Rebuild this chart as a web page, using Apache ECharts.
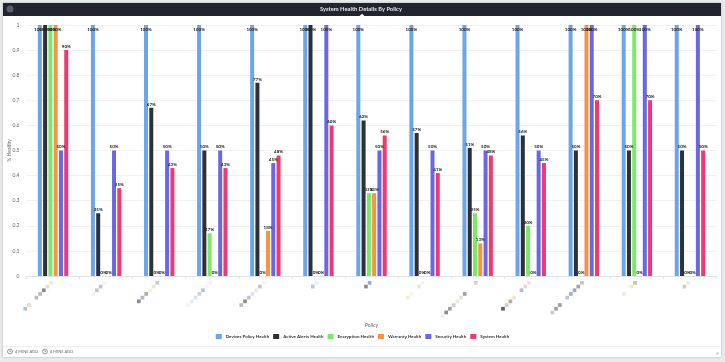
<!DOCTYPE html>
<html><head><meta charset="utf-8">
<style>html,body{margin:0;padding:0;background:#e9eaec;overflow:hidden}#c{width:725px;height:362px}</style>
<script src="https://cdn.jsdelivr.net/npm/echarts@6/dist/echarts.min.js"></script>
</head><body><div id="c"></div>
<script>
const title = 'System Health Details By Policy';
const seriesNames = ['Devices Policy Health','Active Alerts Health','Encryption Health','Warranty Health','Security Health','System Health'];
const colors = ['#6ba5ea','#2f3033','#7be868','#f59443','#6c66e2','#f2396b'];
const devicesPolicy = [1,1,1,1,1,1,1,1,1,1,1,1,1];
const activeAlerts = [1,.25,.67,.5,.77,1,.62,.57,.51,.56,.5,.5,.5];
const encryption   = [1,0,0,.17,0,0,.33,0,.25,.2,0,1,0];
const warranty     = [1,0,0,0,.18,0,.33,0,.13,0,1,0,0];
const security     = [.5,.5,.5,.5,.45,1,.5,.5,.5,.5,1,1,1];
const systemHealth = [.9,.35,.43,.43,.48,.6,.56,.41,.48,.45,.7,.7,.5];
const values = [devicesPolicy,activeAlerts,encryption,warranty,security,systemHealth];
// Category names are pixelated out in the reference; each is a staircase of pale squares, top-right first.
const categories = ['Policy A','Policy B','Policy C','Policy D','Policy E','Policy F','Policy G','Policy H','Policy I','Policy J','Policy K','Policy L','Policy M'];
const labelShades = [
 ['#f0ebe2','#e6dccf','#8c8880','#b8b8b8','#b4bcc6','','#e6dccf','#aebdd0'],
 ['#f4f4f4','#b8c4d0','#c4c8cc','#eef6fb'],
 ['#c8ccd0','#efe4d6','#f4efe6','#b8aca0','#a8b8cc','#8c8c8c'],
 ['#f6f6e8','#eef4fb','#b8c4d4','#c8d4e6','#d8e2f0','#e6edf6','#f0f5fb'],
 ['#f4f4f4','#b8c6d8','#f0ecdc','#dde2ea','#c4c4c4','#948c84','#c0bcb4'],
 ['#e8f0f8','#b8c8dc'],
 ['#a0aec2','#8c8c8c'],
 ['#f4f4f4','#ece4d8','','#f4f6ee','#e4f2dc'],
 ['#d8d0c4','','','#a0a0a0','#e4e4e4','#f0e8da','#d8cfc4','#a0a0a0','#8c8c8c','#e8f2fb'],
 ['#f0e4d4','#e4d8c8','#b0bccc','','#efe4d0','#b8aca0','#d8cfc4','#5c6068'],
 ['#ccc0b0','#9aa4b4','#a0a8b4','#a8b0bc','#bcc8d8','','#9c9c9c','#a0a0a0','#d4ccc0'],
 ['#c8c0b0','#f4e8d4','','#f6ead8'],
 ['#f6ecdc','#d8ccb8']
];
const step = 3.7;

const chart = echarts.init(document.getElementById('c'), null, {renderer:'canvas'});
const rich = {};
for (let k=0;k<=12;k++) rich['sp'+k] = {width:k*step+0.01,height:step,lineHeight:step,fontSize:1,color:'transparent'};
labelShades.forEach((row,i)=>row.forEach((c,j)=>{ rich['s'+i+'_'+j] = {width:step,height:step,lineHeight:step,backgroundColor:c||'transparent',fontSize:1,color:'transparent'}; }));

chart.setOption({
  animation:false,
  backgroundColor:'#e9eaec',
  textStyle:{fontFamily:'Lato,"Liberation Sans",sans-serif'},
  title:{text:title,left:320,top:5,padding:0,
    textStyle:{color:'#e6e7ea',fontSize:5.8,fontWeight:'bold',fontFamily:'Lato,sans-serif',lineHeight:8}},
  grid:{left:26.5,right:8.5,top:25,bottom:86,outerBoundsMode:'none'},
  legend:{top:329,left:'center',itemWidth:6,itemHeight:5,itemGap:4,icon:'rect',
    data:seriesNames,textStyle:{fontSize:4.5,color:'#333',fontWeight:'bold',padding:[0,0,0,-1]}},
  xAxis:{type:'category',data:categories,name:'Policy',nameLocation:'middle',nameGap:47,nameMoveOverlap:false,
    nameTextStyle:{fontSize:5,color:'#666'},
    axisTick:{show:true,length:3,lineStyle:{color:'#dfe4ee'}},
    axisLine:{lineStyle:{color:'#dfe4ee'}},
    axisLabel:{interval:0,rotate:0,margin:5,align:'right',verticalAlign:'top',fontSize:1,color:'transparent',
      formatter:(v,i)=>labelShades[i].map((c,j)=>'{s'+i+'_'+j+'| }{sp'+j+'| }').join('\n'),rich}},
  yAxis:{type:'value',min:0,max:1,interval:0.1,name:'% Healthy',nameLocation:'middle',nameGap:15,nameMoveOverlap:false,
    nameTextStyle:{fontSize:5,color:'#666'},
    axisLine:{show:false},axisTick:{show:false},
    axisLabel:{fontSize:5,color:'#666',margin:7,formatter:v=>String(+v.toFixed(1))},
    splitLine:{lineStyle:{color:'#f0f1f3',width:1}}},
  series:seriesNames.map((n,k)=>({
    name:n,type:'bar',barWidth:4,barGap:'32%',barCategoryGap:'50%',
    itemStyle:{color:colors[k]},
    data:values[k].map(v=>({value:v,label:{position:v===1?'insideTop':'top',distance:v===1?2:1}})),
    label:{show:true,fontSize:4.5,fontWeight:'bold',color:'#222',
      formatter:p=>Math.round(p.value*100)+'%'},
    z:2
  })),
  graphic:[
    {type:'rect',z:-10,silent:true,shape:{x:3,y:3,width:718,height:354},style:{fill:'#fff',shadowBlur:2,shadowColor:'rgba(0,0,0,.25)'}},
    {type:'rect',z:-9,silent:true,shape:{x:3,y:3,width:718,height:13},style:{fill:'#22252e'}},
    {type:'circle',z:-8,silent:true,shape:{cx:10,cy:9,r:3.5},style:{fill:'#5a5e66'}},
    {type:'polygon',z:-8,silent:true,shape:{points:[[359.5,16],[362,13.8],[364.5,16]]},style:{fill:'#fff'}},
    {type:'rect',z:-8,silent:true,shape:{x:3,y:346,width:718,height:1},style:{fill:'#eef0f2'}},
    {type:'circle',z:1,silent:true,shape:{cx:10,cy:351.5,r:2.4},style:{fill:'#fff',stroke:'#555',lineWidth:.6}},
    {type:'polyline',z:1,silent:true,shape:{points:[[10,350],[10,351.6],[11.2,351.6]]},style:{stroke:'#555',lineWidth:.5,fill:null}},
    {type:'text',z:1,silent:true,style:{x:15,y:349.5,text:'4 MINS AGO',fontSize:4,fill:'#666',fontFamily:'Lato,sans-serif'}},
    {type:'circle',z:1,silent:true,shape:{cx:45,cy:351.5,r:2.4},style:{fill:'#fff',stroke:'#555',lineWidth:.6}},
    {type:'polyline',z:1,silent:true,shape:{points:[[45,350],[45,351.6],[46.2,351.6]]},style:{stroke:'#555',lineWidth:.5,fill:null}},
    {type:'text',z:1,silent:true,style:{x:50,y:349.5,text:'4 MINS AGO',fontSize:4,fill:'#666',fontFamily:'Lato,sans-serif'}},
    {type:'polyline',z:1,silent:true,shape:{points:[[716,354],[718,354],[718,352]]},style:{stroke:'#999',lineWidth:.6,fill:null}}
  ]
});
</script></body></html>
